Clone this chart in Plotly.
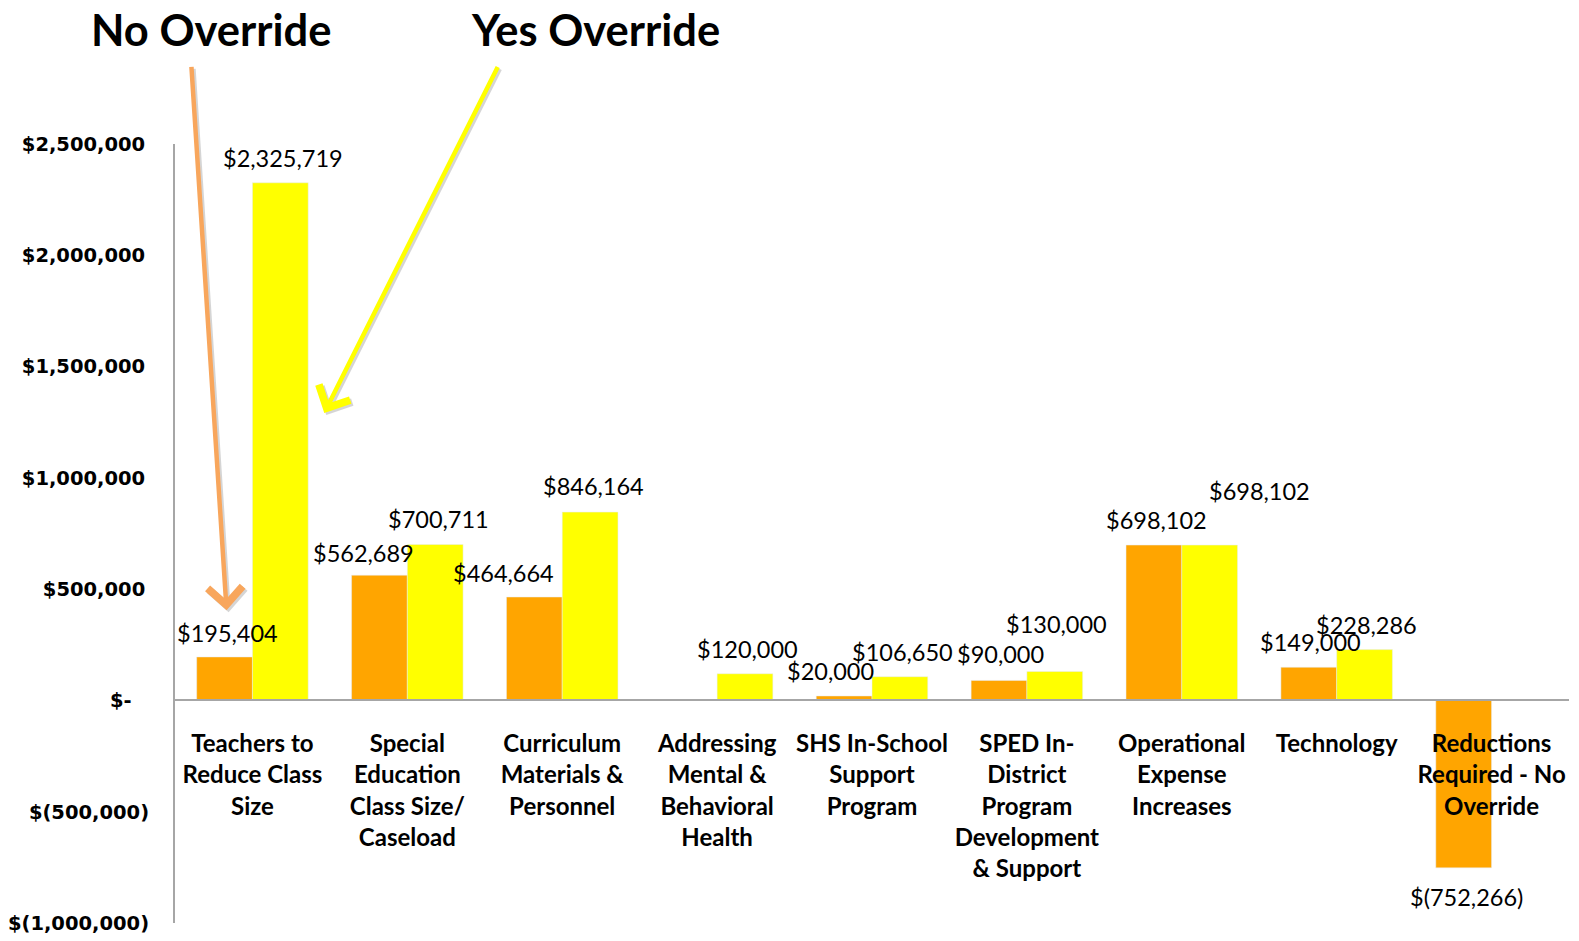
import plotly.graph_objects as go

categories = [
    "Teachers to<br>Reduce Class<br>Size",
    "Special<br>Education<br>Class Size/<br>Caseload",
    "Curriculum<br>Materials &<br>Personnel",
    "Addressing<br>Mental &<br>Behavioral<br>Health",
    "SHS In-School<br>Support<br>Program",
    "SPED In-<br>District<br>Program<br>Development<br>& Support",
    "Operational<br>Expense<br>Increases",
    "Technology",
    "Reductions<br>Required - No<br>Override",
]
no_override = [195404, 562689, 464664, None, 20000, 90000, 698102, 149000, -752266]
yes_override = [2325719, 700711, 846164, 120000, 106650, 130000, 698102, 228286, None]

y_tickvals = [2500000, 2000000, 1500000, 1000000, 500000, 0, -500000, -1000000]
y_ticktext = ["$2,500,000\u2009", "$2,000,000\u2009", "$1,500,000\u2009", "$1,000,000\u2009",
              "$500,000\u2009", "$-\u00a0\u00a0\u2009", "$(500,000)", "$(1,000,000)"]

# label offsets in pixels (relative to bar center / bar end)
no_dx = [3, -16, -31, 0, -14, 2, 3, 2, 3]
no_dy = [24, 22, 24, 0, 25, 26, 25, 25, -29]
yes_dx = [3, 3, 3, 2, 3, 2, 50, 2, 0]
yes_dy = [25, 25, 26, 25, 25, 47, 54, 25, 0]

ORANGE = "#FFA500"
YELLOW = "#FFFF00"

def fmt(v):
    if v < 0:
        return "$({:,})".format(-v)
    return "${:,}".format(v)

xs = list(range(len(categories)))

fig = go.Figure()
fig.add_trace(go.Bar(x=xs, y=no_override, marker_color=ORANGE, name="No Override"))
fig.add_trace(go.Bar(x=xs, y=yes_override, marker_color=YELLOW, name="Yes Override"))

# figure geometry (page has 8px body margin)
W, H = 1571, 933
L, T, R, B = 167, 136, 1561, 915
PW, PH = R - L, B - T
S = 1579 / 1568.0

def px(xs_ref):
    return (xs_ref * S - 8 - L) / PW
def py(ys_ref):
    return (B - (ys_ref * S - 8)) / PH

half = 27.9
label_font = dict(family="Lato", size=23.5, color="#000")
annotations = []
for i, v in enumerate(no_override):
    if v is None:
        continue
    annotations.append(dict(x=xs[i], y=v, xref="x", yref="y", text=fmt(v), showarrow=False,
                            xanchor="center", yanchor="middle",
                            xshift=-half + no_dx[i], yshift=no_dy[i], font=label_font))
for i, v in enumerate(yes_override):
    if v is None:
        continue
    annotations.append(dict(x=xs[i], y=v, xref="x", yref="y", text=fmt(v), showarrow=False,
                            xanchor="center", yanchor="middle",
                            xshift=half + yes_dx[i], yshift=yes_dy[i], font=label_font))

# Titles
title_font = dict(family="Lato", size=43.5, color="#000")
annotations.append(dict(x=px(210), y=py(29), xref="paper", yref="paper", text="<b>No Override</b>",
                        xanchor="center", yanchor="middle", showarrow=False, font=title_font))
annotations.append(dict(x=px(591), y=py(29), xref="paper", yref="paper", text="<b>Yes Override</b>",
                        xanchor="center", yanchor="middle", showarrow=False, font=title_font))

# Arrows (shadow then arrow)
for (hx, hy, tx, ty, col) in [(225, 606, 190, 65, "#F8A65C"), (322, 410, 495, 65, YELLOW)]:
    dx, dy = (tx - hx) * S, (ty - hy) * S
    annotations.append(dict(x=px(hx + 2), y=py(hy + 2), xref="paper", yref="paper",
                            ax=dx, ay=dy, showarrow=True, arrowhead=4,
                            arrowsize=1.5, arrowwidth=4.5, arrowcolor="rgba(120,120,120,0.3)", text=""))
    annotations.append(dict(x=px(hx), y=py(hy), xref="paper", yref="paper",
                            ax=dx, ay=dy, showarrow=True, arrowhead=4,
                            arrowsize=1.5, arrowwidth=4.5, arrowcolor=col, text=""))

fig.update_layout(
    width=W, height=H,
    margin=dict(l=L, r=W - R, t=T, b=H - B, autoexpand=False),
    paper_bgcolor="white", plot_bgcolor="white",
    barmode="group", bargap=0.28, bargroupgap=0,
    showlegend=False,
    annotations=annotations,
    xaxis=dict(
        tickvals=xs, ticktext=categories, range=[-0.5, 8.5],
        anchor="free", position=1 / 3.5, automargin=False,
        showline=True, linecolor="#A6A6A6", linewidth=2,
        showgrid=False, zeroline=False, ticks="",
        ticklabelstandoff=22,
        tickfont=dict(family="Lato", size=24, color="#000", weight="bold"),
        tickangle=0,
    ),
    yaxis=dict(
        range=[-1000000, 2500000], tickvals=y_tickvals, ticktext=y_ticktext,
        automargin=False,
        showline=True, linecolor="#A6A6A6", linewidth=2,
        showgrid=False, zeroline=False, ticks="",
        ticklabelstandoff=20,
        tickfont=dict(family="DejaVu Sans", size=19.5, color="#000", weight="bold"),
    ),
)

fig.write_html("out.html")
